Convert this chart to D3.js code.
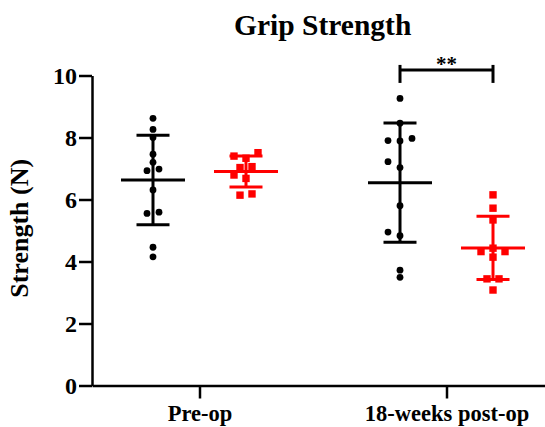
<!DOCTYPE html>
<html>
<head>
<meta charset="utf-8">
<script src="https://cdn.jsdelivr.net/npm/d3@7"></script>
<style>
  html, body { margin: 0; padding: 0; background: #fff; }
  svg { display: block; }
  text { font-family: "Liberation Serif", "Times New Roman", serif; font-weight: bold; fill: #000; }
</style>
</head>
<body>
<svg id="chart" width="545" height="427"></svg>
<script>
// ---- data -------------------------------------------------------------
const categories = ["Pre-op", "18-weeks post-op"];
const seriesNames = ["Series 1", "Series 2"];
const seriesColors = ["#000000", "#ff0000"];
const seriesShapes = ["circle", "square"];

// grip strength (N), one value per subject
const series1PreOp  = [8.62, 8.26, 8.00, 7.46, 7.20, 6.98, 6.93, 6.31, 5.59, 5.55, 4.46, 4.15];
const series2PreOp  = [7.51, 7.40, 7.33, 7.06, 7.03, 6.79, 6.68, 6.18, 6.14];
const series1PostOp = [9.26, 8.46, 7.97, 7.90, 7.89, 7.22, 7.03, 5.80, 4.95, 4.83, 3.72, 3.49];
const series2PostOp = [6.15, 5.72, 5.34, 4.43, 4.32, 4.32, 4.14, 3.44, 3.44, 3.08];

const yTicks = [0, 2, 4, 6, 8, 10];
const yDomain = [0, 10];

// significance annotation between the two series at one time point
const sigCategory = "18-weeks post-op";
const sigLabel = "**";
const sigLevel = 10.18;

const groups = [
  { category: categories[0], series: seriesNames[0], values: series1PreOp },
  { category: categories[0], series: seriesNames[1], values: series2PreOp },
  { category: categories[1], series: seriesNames[0], values: series1PostOp },
  { category: categories[1], series: seriesNames[1], values: series2PostOp }
];

// ---- layout -----------------------------------------------------------
const svg = d3.select("#chart");
const axisX = 92;
const plotTop = 75.5, plotBottom = 385.5;

const y = d3.scaleLinear().domain(yDomain).range([plotBottom, plotTop]);
const x = d3.scalePoint().domain(categories).range([axisX, 554]).padding(0.4352);
const sub = d3.scaleBand().domain(seriesNames).range([-93, 93]);
const color = d3.scaleOrdinal().domain(seriesNames).range(seriesColors);
const shape = d3.scaleOrdinal().domain(seriesNames).range(seriesShapes);

const centerOf = g => x(g.category) + sub(g.series) + sub.bandwidth() / 2;

// Simple beeswarm: points placed from low to high, moved sideways by whole
// slots when they would overlap a point already placed; an isolated pair of
// near-equal values is set symmetrically about the centre line.
function swarmOffsets(values, diameter, step) {
  const py = values.map(v => y(v));
  const order = d3.range(values.length).sort((a, b) => values[a] - values[b]);
  const off = new Array(values.length).fill(0);
  const placed = [];
  const candidates = [0, -step, step, -2 * step, 2 * step];
  for (const i of order) {
    for (const c of candidates) {
      if (placed.every(j => Math.hypot(off[j] - c, py[j] - py[i]) >= diameter)) { off[i] = c; break; }
    }
    placed.push(i);
  }
  const comps = [];
  let comp = [order[0]];
  for (let k = 1; k < order.length; k++) {
    const a = order[k - 1], b = order[k];
    if (Math.abs(py[a] - py[b]) < diameter) comp.push(b);
    else { comps.push(comp); comp = [b]; }
  }
  comps.push(comp);
  for (const c of comps) {
    if (c.length === 2 && Math.abs(py[c[0]] - py[c[1]]) < 2) {
      off[c[0]] = -step / 2;
      off[c[1]] = step / 2;
    }
  }
  return off;
}

// ---- title ------------------------------------------------------------
svg.append("text")
  .attr("x", 322.7).attr("y", 35)
  .attr("text-anchor", "middle")
  .style("font-size", "29.5px")
  .text("Grip Strength");

// ---- axes -------------------------------------------------------------
const yAxis = svg.append("g")
  .attr("transform", `translate(${axisX},0)`)
  .call(d3.axisLeft(y).tickValues(yTicks).tickFormat(d3.format("d"))
        .tickSize(13).tickPadding(2).tickSizeOuter(0));
yAxis.selectAll("text").style("font-size", "24px").attr("dy", "0.34em");

const xAxis = svg.append("g")
  .attr("transform", `translate(0,${plotBottom})`)
  .call(d3.axisBottom(x).tickSize(13).tickPadding(6.5).tickSizeOuter(0));
xAxis.selectAll("text").style("font-size", "22.5px");

svg.selectAll(".domain, .tick line")
  .attr("stroke", "#000").attr("stroke-width", 2.5);
svg.selectAll(".tick text").style("font-family", null).style("font-weight", null);

svg.append("text")
  .attr("transform", `translate(28,228.3) rotate(-90)`)
  .attr("text-anchor", "middle")
  .style("font-size", "26px")
  .text("Strength (N)");

// ---- mean ± SD bars ---------------------------------------------------
const bars = svg.append("g");
groups.forEach(g => {
  const cx = centerOf(g);
  const m = d3.mean(g.values);
  const sd = d3.deviation(g.values);
  const col = color(g.series);
  const gg = bars.append("g").attr("stroke", col).attr("stroke-width", 3).attr("fill", "none");
  gg.append("line").attr("x1", cx).attr("x2", cx).attr("y1", y(m + sd)).attr("y2", y(m - sd));
  gg.append("line").attr("x1", cx - 32).attr("x2", cx + 32).attr("y1", y(m)).attr("y2", y(m));
  [m + sd, m - sd].forEach(v => {
    gg.append("line").attr("x1", cx - 16.5).attr("x2", cx + 16.5).attr("y1", y(v)).attr("y2", y(v));
  });
});

// ---- individual points ------------------------------------------------
const pts = svg.append("g");
groups.forEach(g => {
  const cx = centerOf(g);
  const offs = swarmOffsets(g.values, 6.5, 12);
  const col = color(g.series);
  if (shape(g.series) === "circle") {
    pts.selectAll(null).data(g.values).enter().append("circle")
      .attr("cx", (d, i) => cx + offs[i]).attr("cy", d => y(d))
      .attr("r", 3.4).attr("fill", col);
  } else {
    const s = 7.4;
    pts.selectAll(null).data(g.values).enter().append("rect")
      .attr("x", (d, i) => cx + offs[i] - s / 2).attr("y", d => y(d) - s / 2)
      .attr("width", s).attr("height", s).attr("fill", col);
  }
});

// ---- significance bracket --------------------------------------------
const bx1 = x(sigCategory) + sub(seriesNames[0]) + sub.bandwidth() / 2;
const bx2 = x(sigCategory) + sub(seriesNames[1]) + sub.bandwidth() / 2;
const by = y(sigLevel);
const br = svg.append("g").attr("stroke", "#000").attr("stroke-width", 3);
br.append("line").attr("x1", bx1).attr("x2", bx2).attr("y1", by).attr("y2", by);
[bx1, bx2].forEach(bx => {
  br.append("line").attr("x1", bx).attr("x2", bx).attr("y1", by - 5).attr("y2", by + 13);
});
svg.append("text")
  .attr("x", (bx1 + bx2) / 2).attr("y", by + 1.5)
  .attr("text-anchor", "middle")
  .style("font-size", "21px")
  .text(sigLabel);
</script>
</body>
</html>
